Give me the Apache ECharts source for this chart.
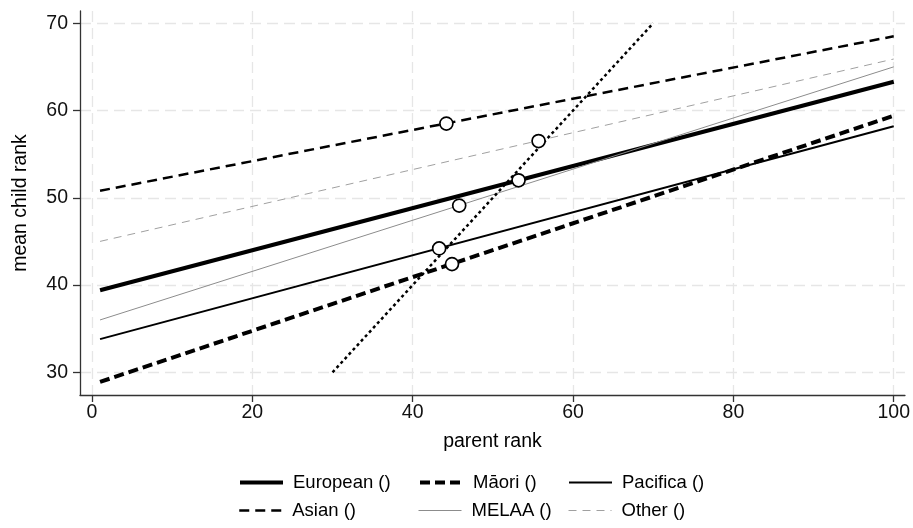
<!DOCTYPE html>
<html>
<head>
<meta charset="utf-8">
<script src="https://cdn.jsdelivr.net/npm/echarts@6/dist/echarts.min.js"></script>
<style>
  html, body { margin: 0; padding: 0; background: #fff; }
  #chart { width: 913px; height: 528px; }
</style>
</head>
<body>
<div id="chart"></div>
<script>
// 拟合线的两个端点 (parent rank)
const lineX = [1, 100]
// 各群体拟合线两端的 mean child rank
const european = [39.4, 63.3]
const maori = [28.9, 59.4]
const pacifica = [33.8, 58.2]
const asian = [50.8, 68.5]
const melaa = [36.0, 65.0]
const other = [45.0, 65.9]
// 45度参考线
const refX = [30, 70]
const refY = [30, 70]
// 各群体均值点
const meanX = [53.2, 44.9, 43.3, 44.2, 45.8, 55.7]
const meanY = [52.0, 42.4, 44.2, 58.5, 49.1, 56.5]
// 刻度
const xTicks = [0, 20, 40, 60, 80, 100]
const yTicks = [30, 40, 50, 60, 70]

const FONT = 'Liberation Sans, Arial, sans-serif'
const pairs = (xs, ys) => xs.map((x, i) => [x, ys[i]])

const groups = [
    { name: 'European ()', ys: european, style: { color: '#000', width: 4, type: 'solid' } },
    { name: 'Māori ()', ys: maori, style: { color: '#000', width: 4, type: [10, 5] } },
    { name: 'Pacifica ()', ys: pacifica, style: { color: '#000', width: 2, type: 'solid' } },
    { name: 'Asian ()', ys: asian, style: { color: '#000', width: 2.5, type: [10, 6] } },
    { name: 'MELAA ()', ys: melaa, style: { color: '#8c8c8c', width: 1, type: 'solid' } },
    { name: 'Other ()', ys: other, style: { color: '#a0a0a0', width: 1, type: [8, 6] } }
]

// 图例位置 (两行三列)
const legendPos = [
    [238, 473], [418, 473], [568, 473],
    [238, 501], [418, 501], [568, 501]
]

const chart = echarts.init(document.getElementById('chart'))

const gridLine = { show: true, lineStyle: { color: '#e6e6e6', width: 1.3, type: [11, 6] } }
const axisLine = { show: true, onZero: false, lineStyle: { color: '#333', width: 1.3 } }

chart.setOption({
    animation: false,
    textStyle: { fontFamily: FONT },
    grid: { left: 80, right: 6, top: 11, bottom: 133 },
    xAxis: {
        type: 'value', min: -1.5, max: 101.4,
        name: 'parent rank', nameLocation: 'middle', nameGap: 37,
        nameTextStyle: { fontSize: 19.5, color: '#000', fontFamily: FONT },
        axisLine,
        axisTick: { show: true, length: 7, customValues: xTicks, lineStyle: { color: '#333', width: 1.3 } },
        axisLabel: { customValues: xTicks, fontSize: 19.5, color: '#111', margin: 8, fontFamily: FONT },
        splitLine: gridLine
    },
    yAxis: {
        type: 'value', min: 27.4, max: 71.4,
        name: 'mean child rank', nameLocation: 'middle', nameGap: 49, nameRotate: 90,
        nameTextStyle: { fontSize: 19.5, color: '#000', fontFamily: FONT },
        axisLine,
        axisTick: { show: true, length: 7, customValues: yTicks, lineStyle: { color: '#333', width: 1.3 } },
        axisLabel: { customValues: yTicks, fontSize: 19.5, color: '#111', margin: 12, fontFamily: FONT },
        splitLine: gridLine
    },
    legend: groups.map((g, i) => ({
        data: [g.name],
        left: legendPos[i][0], top: legendPos[i][1],
        padding: 0,
        itemWidth: 43, itemHeight: 18,
        selectedMode: false,
        itemStyle: { opacity: 0 },
        lineStyle: { color: g.style.color, width: g.style.width, type: g.style.type },
        textStyle: { fontSize: 18.5, color: '#000', fontFamily: FONT, padding: [0, 0, 0, 5] }
    })),
    series: [
        ...groups.map(g => ({
            name: g.name,
            type: 'line',
            data: pairs(lineX, g.ys),
            symbol: 'none',
            showSymbol: false,
            lineStyle: g.style,
            itemStyle: { color: g.style.color },
            z: 2
        })),
        {
            name: 'ref',
            type: 'line',
            data: pairs(refX, refY),
            symbol: 'none',
            lineStyle: { color: '#000', width: 2.5, type: [3, 3] },
            z: 2
        },
        {
            name: 'means',
            type: 'scatter',
            data: pairs(meanX, meanY),
            symbol: 'circle',
            symbolSize: 13,
            itemStyle: { color: '#fff', borderColor: '#000', borderWidth: 1.7, opacity: 1 },
            z: 3
        }
    ]
})
</script>
</body>
</html>
